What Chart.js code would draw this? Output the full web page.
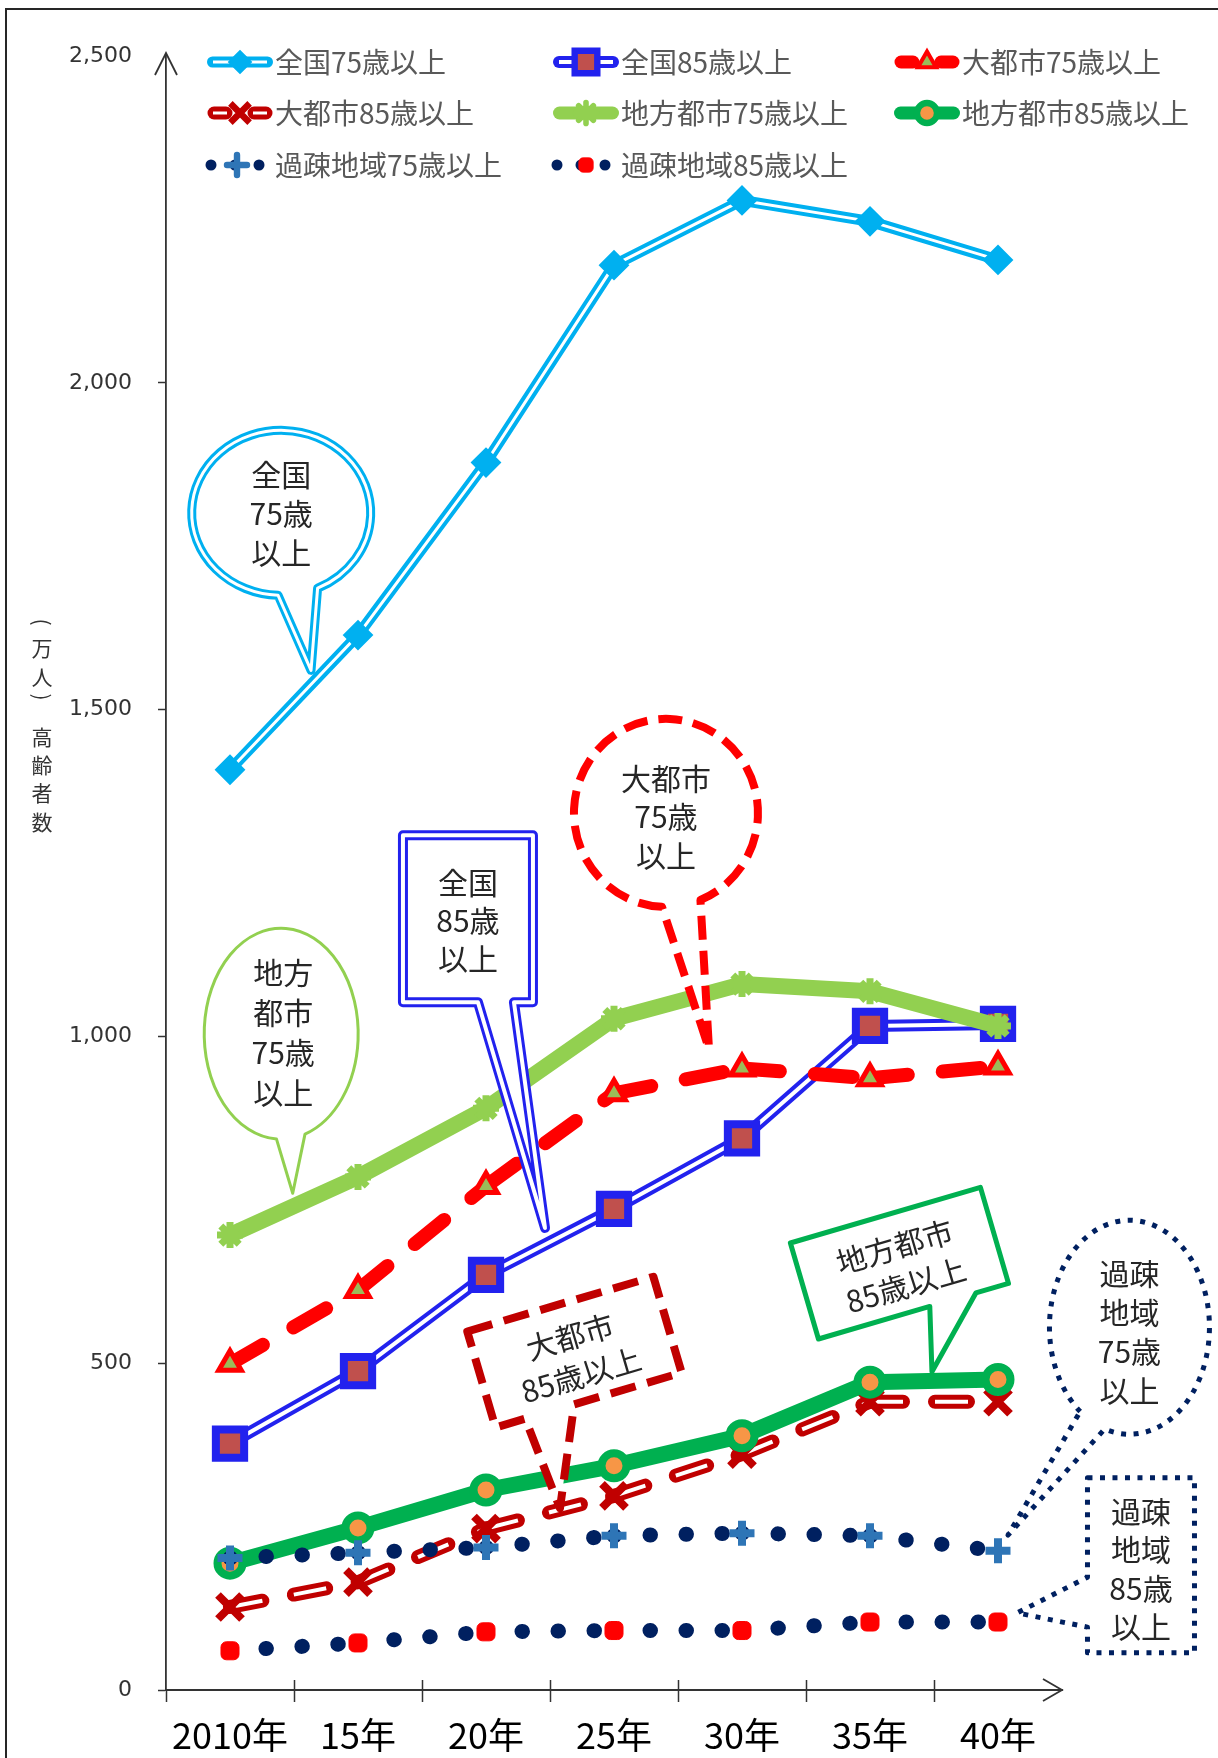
<!DOCTYPE html>
<html lang="ja">
<head>
<meta charset="utf-8">
<title>高齢者数の推移</title>
<script src="https://cdn.jsdelivr.net/npm/chart.js@4.4.1/dist/chart.umd.min.js"></script>
<style>
html,body{margin:0;padding:0;background:#fff;overflow:hidden;}
canvas{display:block;}
</style>
</head>
<body>
<canvas id="chart" width="1218" height="1758"></canvas>
<script>
// ---------------- data ----------------
const categories = ['2010年', '15年', '20年', '25年', '30年', '35年', '40年'];
const zenkoku75  = [1408, 1614, 1878, 2180, 2279, 2247, 2188];
const zenkoku85  = [377, 488, 635, 736, 844, 1016, 1019];
const daitoshi75 = [499, 612, 771, 913, 951, 936, 954];
const daitoshi85 = [127, 165, 247, 297, 361, 441, 441];
const chiho75    = [696, 785, 890, 1027, 1080, 1069, 1016];
const chiho85    = [194, 248, 306, 343, 389, 471, 475];
const kaso75     = [202, 210, 218, 236, 240, 236, 213];
const kaso85     = [60, 72, 89, 91, 91, 104, 104];
const seriesNames = ['全国75歳以上', '全国85歳以上', '大都市75歳以上', '大都市85歳以上',
                     '地方都市75歳以上', '地方都市85歳以上', '過疎地域75歳以上', '過疎地域85歳以上'];
const yTickLabels = ['0', '500', '1,000', '1,500', '2,000', '2,500'];
const yAxisTitle = ['(', '万', '人', ')', '高', '齢', '者', '数'];

// ---------------- styles ----------------
const seriesData = [zenkoku75, zenkoku85, daitoshi75, daitoshi85, chiho75, chiho85, kaso75, kaso85];
const styles = [
  {color:'#00B0F0', width:11, inner:3, legend:'solid',
   marker:{style:'rectRot', r:14, bg:'#00B0F0', border:'#00B0F0', bw:2}},
  {color:'#2222EE', width:12, inner:4, legend:'solid',
   marker:{style:'rect', r:20, bg:'#C0504D', border:'#2222EE', bw:8}},
  {color:'#FF0000', width:14, dash:[38,35], cap:'round', legend:'dash',
   marker:{style:'triangle', r:13, bg:'#9BBB59', border:'#FF0000', bw:5}},
  {color:'#C00000', width:14, inner:4, dash:[33,32], cap:'round', legend:'dash',
   marker:{style:'crossRot', r:17, bg:'#C00000', border:'#C00000', bw:8}},
  {color:'#92D050', width:16, legend:'solid',
   marker:{style:'star', r:13, bg:'#92D050', border:'#92D050', bw:7}},
  {color:'#00B050', width:16, legend:'solid',
   marker:{style:'circle', r:12.5, bg:'#F79646', border:'#00B050', bw:8}},
  {color:'#002060', width:15, dash:[0.5,35.5], cap:'round', legend:'dots', legendMarkerX:30,
   marker:{style:'cross', r:12.5, bg:'#2E75B6', border:'#2E75B6', bw:8}},
  {color:'#002060', width:15, dash:[0.5,35.5], cap:'round', legend:'dots', legendMarkerX:33,
   marker:{style:'rectRounded', r:10.5, bg:'#FF0000', border:'#FF0000', bw:1}}
];

const CJK = '"Noto Sans CJK JP", "Noto Sans", sans-serif';

// ---------------- datasets ----------------
const datasets = [];
seriesData.forEach((data, k) => {
  const s = styles[k];
  const seg = s.dash ? {borderDashOffset: c => c.p0DataIndex * 0.001} : undefined;
  const base = {data, tension:0, fill:false, pointRadius:0, pointHoverRadius:0, pointHitRadius:0};
  datasets.push(Object.assign({}, base, {
    label: seriesNames[k], borderColor: s.color, borderWidth: s.width,
    borderDash: s.dash || [], borderCapStyle: s.cap || 'butt', borderJoinStyle: 'round',
    order: 100 - k * 10, segment: seg
  }));
  if (s.inner) {
    datasets.push(Object.assign({}, base, {
      label: seriesNames[k] + ' (inner)', borderColor: '#FFFFFF', borderWidth: s.inner,
      borderDash: s.dash || [], borderCapStyle: 'butt', borderJoinStyle: 'round',
      order: 99 - k * 10, segment: seg
    }));
  }
  datasets.push({
    label: seriesNames[k] + ' (marker)', data, showLine: false,
    pointStyle: s.marker.style, pointRadius: s.marker.r, pointHoverRadius: s.marker.r,
    pointBackgroundColor: s.marker.bg, pointBorderColor: s.marker.border,
    pointBorderWidth: s.marker.bw, pointHoverBorderWidth: s.marker.bw,
    order: 98 - k * 10
  });
});

// ---------------- callouts (positions in category-index / value space) ----------------
const callouts = [
  {shape:'ellipse', lines:['全国','75歳','以上'], at:[0.40,1801], rx:89.5, ry:82.5, aL:92, aR:66,
   tip:[0.633,1560], stroke:{color:'#00B0F0', width:9, inner:3}, ty:1, lh:39},
  {shape:'ellipse', lines:['地方','都市','75歳','以上'], at:[0.40,1004], rx:77, ry:105.5, aL:93.5, aR:72,
   tip:[0.49,760], stroke:{color:'#92D050', width:3}, ty:-1, tx:2, lh:40},
  {shape:'rect', lines:['全国','85歳','以上'], at:[1.859,1180], hw:65, hh:83.5,
   tail:{edge:'bottom', b:[10,46]}, tip:[2.461,707], stroke:{color:'#2222EE', width:10, inner:4}, ty:1.5, lh:38},
  {shape:'ellipse', lines:['大都市','75歳','以上'], at:[3.406,1342], rx:92, ry:94, aL:92.5, aR:68,
   tip:[3.742,981], stroke:{color:'#FF0000', width:8, dash:[24,11]}, ty:4, lh:38.5},
  {shape:'rect', rot:-16.4, lines:['大都市','85歳以上'], at:[2.691,517], hw:97, hh:50,
   tail:{edge:'bottom', b:[-66,-15]}, tip:[2.578,278], stroke:{color:'#C00000', width:8, dash:[26,12]}, ty:4, lh:40},
  {shape:'rect', rot:-16.3, lines:['地方都市','85歳以上'], at:[5.230,653], hw:99, hh:50,
   tail:{edge:'bottom', b:[17,65]}, tip:[5.484,487], stroke:{color:'#00B050', width:5}, ty:3, lh:40},
  {shape:'ellipse', lines:['過疎','地域','75歳','以上'], at:[7.027,555], rx:80, ry:107, aL:128, aR:108,
   tip:[6.078,237], stroke:{color:'#002060', width:5, dash:[5,7.5]}, ty:5, lh:39},
  {shape:'rect', lines:['過疎','地域','85歳','以上'], at:[7.117,191], hw:53.5, hh:87.5,
   tail:{edge:'left', b:[12,62]}, tip:[6.15,118], stroke:{color:'#002060', width:5, dash:[5,7.5]}, ty:4, lh:38.5}
];

// ---------------- helpers ----------------
function toPx(chart, p) {
  return {x: chart.scales.x.getPixelForValue(p[0]), y: chart.scales.y.getPixelForValue(p[1])};
}
function paintShape(ctx, st) {
  ctx.fillStyle = '#FFFFFF';
  ctx.fill();
  ctx.lineJoin = 'round';
  ctx.lineCap = 'butt';
  ctx.setLineDash(st.dash || []);
  ctx.strokeStyle = st.color;
  ctx.lineWidth = st.width;
  ctx.stroke();
  if (st.inner) {
    ctx.strokeStyle = '#FFFFFF';
    ctx.lineWidth = st.inner;
    ctx.stroke();
  }
  ctx.setLineDash([]);
}
function drawCalloutText(ctx, d) {
  ctx.font = '30px ' + CJK;
  ctx.fillStyle = '#262626';
  ctx.textAlign = 'center';
  ctx.textBaseline = 'middle';
  const n = d.lines.length;
  d.lines.forEach((t, i) => {
    ctx.fillText(t, d.tx || 0, (d.ty || 0) + (i - (n - 1) / 2) * d.lh);
  });
}
function drawMarker(ctx, m, x, y, f) {
  ctx.save();
  ctx.setLineDash([]);
  ctx.fillStyle = m.bg;
  ctx.strokeStyle = m.border;
  ctx.lineWidth = m.bw * f;
  Chart.helpers.drawPoint(ctx, {pointStyle: m.style, rotation: 0, radius: m.r * f, borderWidth: m.bw * f}, x, y);
  ctx.restore();
}

// ---------------- plugins ----------------
const background = {
  id: 'background',
  beforeDraw(chart) {
    const ctx = chart.ctx;
    ctx.save();
    ctx.fillStyle = '#FFFFFF';
    ctx.fillRect(0, 0, chart.width, chart.height);
    ctx.strokeStyle = '#262626';
    ctx.lineWidth = 2;
    ctx.beginPath();
    ctx.moveTo(6, chart.height);
    ctx.lineTo(6, 9);
    ctx.lineTo(chart.width, 9);
    ctx.stroke();
    ctx.restore();
  }
};

const calloutPlugin = {
  id: 'callouts',
  afterDatasetsDraw(chart) {
    const ctx = chart.ctx;
    callouts.forEach(d => {
      const c = toPx(chart, d.at);
      const tip = toPx(chart, d.tip);
      ctx.save();
      if (d.shape === 'ellipse') {
        ctx.beginPath();
        ctx.ellipse(c.x, c.y, d.rx, d.ry, 0, d.aL * Math.PI / 180, d.aR * Math.PI / 180 + 2 * Math.PI, false);
        ctx.lineTo(tip.x, tip.y);
        ctx.closePath();
        paintShape(ctx, d.stroke);
        ctx.translate(c.x, c.y);
        drawCalloutText(ctx, d);
      } else {
        const rot = (d.rot || 0) * Math.PI / 180;
        ctx.translate(c.x, c.y);
        ctx.rotate(rot);
        const dx = tip.x - c.x, dy = tip.y - c.y;
        const lt = {x: dx * Math.cos(-rot) - dy * Math.sin(-rot), y: dx * Math.sin(-rot) + dy * Math.cos(-rot)};
        const hw = d.hw, hh = d.hh, b1 = d.tail.b[0], b2 = d.tail.b[1];
        let pts;
        if (d.tail.edge === 'bottom') {
          pts = [[-hw,-hh],[hw,-hh],[hw,hh],[b2,hh],[lt.x,lt.y],[b1,hh],[-hw,hh]];
        } else {
          pts = [[-hw,-hh],[hw,-hh],[hw,hh],[-hw,hh],[-hw,b2],[lt.x,lt.y],[-hw,b1]];
        }
        ctx.beginPath();
        ctx.moveTo(pts[0][0], pts[0][1]);
        for (let i = 1; i < pts.length; i++) ctx.lineTo(pts[i][0], pts[i][1]);
        ctx.closePath();
        paintShape(ctx, d.stroke);
        drawCalloutText(ctx, d);
      }
      ctx.restore();
    });
  }
};

const decor = {
  id: 'decor',
  afterDraw(chart) {
    const ctx = chart.ctx, a = chart.chartArea, xs = chart.scales.x;
    ctx.save();
    // axis arrows
    ctx.strokeStyle = '#333333';
    ctx.lineWidth = 1.8;
    ctx.lineCap = 'butt';
    ctx.lineJoin = 'miter';
    ctx.beginPath();
    ctx.moveTo(a.left, a.top);
    ctx.lineTo(a.left, a.top - 3);
    ctx.moveTo(a.left - 11, a.top + 19);
    ctx.lineTo(a.left, a.top - 3);
    ctx.lineTo(a.left + 11, a.top + 19);
    ctx.stroke();
    ctx.beginPath();
    ctx.moveTo(a.right - 19, a.bottom - 11);
    ctx.lineTo(a.right, a.bottom);
    ctx.lineTo(a.right - 19, a.bottom + 11);
    ctx.stroke();
    // inward part of the crossing x ticks
    ctx.lineWidth = 1.5;
    ctx.beginPath();
    for (let i = 1; i < categories.length; i++) {
      const xx = Math.round(xs.getPixelForValue(i - 0.5)) + 0.5;
      ctx.moveTo(xx, a.bottom - 10);
      ctx.lineTo(xx, a.bottom);
    }
    ctx.stroke();
    // vertical y-axis title
    ctx.font = '21px ' + CJK;
    ctx.fillStyle = '#333333';
    ctx.textAlign = 'center';
    ctx.textBaseline = 'middle';
    const ys = [622, 648, 677, 697, 737, 765, 793, 822];
    yAxisTitle.forEach((ch, i) => {
      ctx.save();
      ctx.translate(42, ys[i]);
      if (ch === '(' || ch === ')') ctx.rotate(Math.PI / 2);
      ctx.fillText(ch, 0, 0);
      ctx.restore();
    });
    // legend
    const cols = [207, 553, 894], rows = [62, 113, 165], L = 66;
    seriesNames.forEach((name, k) => {
      const x0 = cols[k % 3], y = rows[Math.floor(k / 3)];
      const s = styles[k];
      const seg = (p, q, w, col, cap) => {
        ctx.beginPath();
        ctx.lineCap = cap;
        ctx.strokeStyle = col;
        ctx.lineWidth = w;
        ctx.moveTo(x0 + p, y);
        ctx.lineTo(x0 + q, y);
        ctx.stroke();
      };
      let mx = x0 + L / 2;
      if (s.legend === 'solid') {
        const w = Math.min(s.width, 13);
        seg(w / 2, L - w / 2, w, s.color, 'round');
        if (s.inner) seg(6, L - 6, s.inner, '#FFFFFF', 'butt');
      } else if (s.legend === 'dash') {
        [[7, 19], [47, 59]].forEach(pq => {
          seg(pq[0], pq[1], 13, s.color, 'round');
          if (s.inner) seg(pq[0] - 1, pq[1] + 1, 3, '#FFFFFF', 'butt');
        });
      } else {
        ctx.fillStyle = s.color;
        [4, 28, 52].forEach(cx => {
          ctx.beginPath();
          ctx.arc(x0 + cx, y, 5.5, 0, 2 * Math.PI);
          ctx.fill();
        });
        mx = x0 + s.legendMarkerX;
      }
      drawMarker(ctx, s.marker, mx, y, 0.8);
      ctx.font = '28px ' + CJK;
      ctx.fillStyle = '#595959';
      ctx.textAlign = 'left';
      ctx.textBaseline = 'middle';
      ctx.fillText(name, x0 + L + 2, y);
    });
    ctx.restore();
  }
};

// ---------------- chart ----------------
const chart = new Chart(document.getElementById('chart'), {
  type: 'line',
  data: {labels: categories, datasets},
  options: {
    responsive: false,
    maintainAspectRatio: false,
    devicePixelRatio: 1,
    animation: false,
    events: [],
    layout: {padding: {top: 56, right: 156, left: 0, bottom: 0}},
    plugins: {legend: {display: false}, tooltip: {enabled: false}, title: {display: false}},
    scales: {
      x: {
        type: 'category', offset: true,
        grid: {offset: true, drawOnChartArea: false, drawTicks: true, tickLength: 12,
               tickColor: c => (c.tick ? '#333333' : 'rgba(0,0,0,0)'), tickWidth: 1.5},
        border: {display: true, color: '#333333', width: 2},
        ticks: {font: {family: CJK, size: 36}, color: '#000000', padding: 12, maxRotation: 0, autoSkip: false},
        afterFit: s => { s.height = 68; }
      },
      y: {
        min: 0, max: 2500,
        grid: {drawOnChartArea: false, drawTicks: true, tickLength: 8,
               tickColor: c => (c.tick && c.tick.value === 2500 ? 'rgba(0,0,0,0)' : '#333333'), tickWidth: 1.5},
        border: {display: true, color: '#333333', width: 1.8},
        ticks: {stepSize: 500, padding: 26, color: '#333333',
                font: {family: '"DejaVu Sans", Verdana, sans-serif', size: 22},
                callback: v => yTickLabels[Math.round(v / 500)]},
        afterFit: s => { s.width = 166; }
      }
    }
  },
  plugins: [background, calloutPlugin, decor]
});
if (document.fonts && document.fonts.ready) {
  document.fonts.ready.then(() => chart.draw());
}
</script>
</body>
</html>
